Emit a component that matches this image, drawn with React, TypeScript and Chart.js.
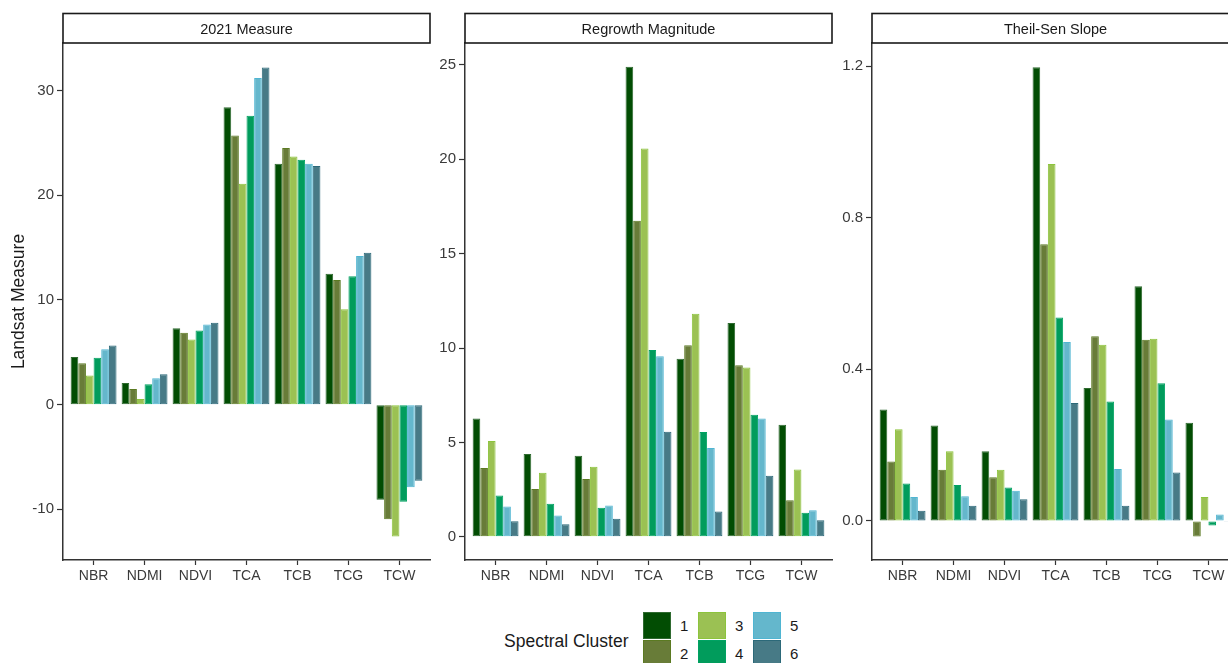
import React, { useEffect, useRef } from 'react';
import { Chart, registerables } from 'chart.js';

Chart.register(...registerables);

// ---------- data ----------
const categories = ['NBR', 'NDMI', 'NDVI', 'TCA', 'TCB', 'TCG', 'TCW'];
const clusters = ['1', '2', '3', '4', '5', '6'];

// 2021 Measure (per cluster, across categories)
const m2021_c1 = [4.56, 2.07, 7.3, 28.4, 23.0, 12.5, -9.09];
const m2021_c2 = [3.95, 1.5, 6.86, 25.7, 24.5, 11.9, -10.94];
const m2021_c3 = [2.78, 0.54, 6.22, 21.1, 23.7, 9.1, -12.6];
const m2021_c4 = [4.47, 1.95, 7.08, 27.6, 23.4, 12.25, -9.28];
const m2021_c5 = [5.3, 2.52, 7.66, 31.2, 23.0, 14.2, -7.88];
const m2021_c6 = [5.65, 2.9, 7.82, 32.2, 22.8, 14.5, -7.27];

// Regrowth Magnitude
const regrow_c1 = [6.27, 4.38, 4.29, 24.9, 9.43, 11.33, 5.93];
const regrow_c2 = [3.64, 2.53, 3.06, 16.74, 10.15, 9.09, 1.94];
const regrow_c3 = [5.08, 3.39, 3.71, 20.57, 11.81, 8.97, 3.57];
const regrow_c4 = [2.19, 1.75, 1.54, 9.89, 5.55, 6.46, 1.27];
const regrow_c5 = [1.61, 1.13, 1.66, 9.57, 4.7, 6.27, 1.41];
const regrow_c6 = [0.82, 0.67, 0.95, 5.56, 1.34, 3.23, 0.88];

// Theil-Sen Slope
const slope_c1 = [0.294, 0.252, 0.184, 1.197, 0.351, 0.619, 0.259];
const slope_c2 = [0.157, 0.135, 0.115, 0.73, 0.487, 0.478, -0.041];
const slope_c3 = [0.242, 0.184, 0.135, 0.942, 0.465, 0.481, 0.063];
const slope_c4 = [0.099, 0.095, 0.088, 0.537, 0.315, 0.363, -0.012];
const slope_c5 = [0.063, 0.065, 0.08, 0.472, 0.137, 0.268, 0.017];
const slope_c6 = [0.027, 0.04, 0.057, 0.311, 0.04, 0.128, -0.002];

// axis limits & ticks
const m2021Limits = [-14.84, 34.54];
const m2021Ticks = [-10, 0, 10, 20, 30];
const regrowLimits = [-1.23, 26.16];
const regrowTicks = [0, 5, 10, 15, 20, 25];
const slopeLimits = [-0.103, 1.261];
const slopeTicks = [0.0, 0.4, 0.8, 1.2];

const panelTitles = ['2021 Measure', 'Regrowth Magnitude', 'Theil-Sen Slope'];
const yAxisTitle = 'Landsat Measure';
const legendTitle = 'Spectral Cluster';

// ---------- styles ----------
const fillColors = ['#024d03', '#687c38', '#9bc153', '#019c5c', '#64b7cc', '#477a86'];
const borderColors = ['#2f6a30', '#5b7a22', '#8cc43c', '#00a262', '#4fb5d2', '#2c6979'];
const FONT = '"Liberation Sans", Arial, sans-serif';
const TEXT = '#1a1a1a';
const TICK_TEXT = '#3a3a3a';
const AXIS = '#333333';

const PLOT_W = 367;
const Y_AXIS_W = 63;
const CANVAS_W = Y_AXIS_W + PLOT_W + 4;
const CANVAS_H = 600;

const stripPlugin = {
  id: 'strip',
  afterDraw(chart: any, _args: any, opts: any) {
    const { ctx, chartArea } = chart;
    const left = chartArea.left;
    const right = chartArea.right;
    const top = 13.5;
    const bottom = chartArea.top;
    ctx.save();
    ctx.fillStyle = '#ffffff';
    ctx.fillRect(left, top, right - left, bottom - top);
    ctx.strokeStyle = '#1a1a1a';
    ctx.lineWidth = 1.6;
    ctx.strokeRect(left, top, right - left, bottom - top);
    ctx.fillStyle = TEXT;
    ctx.font = `14.5px ${FONT}`;
    ctx.textAlign = 'center';
    ctx.textBaseline = 'middle';
    ctx.fillText(opts.text, (left + right) / 2, (top + bottom) / 2 + 2);
    ctx.restore();
  },
};

function makeConfig(
  title: string,
  series: number[][],
  limits: number[],
  yTicks: number[],
  fmt: (v: number) => string,
  yTitle: string | null
): any {
  return {
    type: 'bar',
    data: {
      datasets: clusters.map((c, k) => ({
        label: c,
        data: series[k].map((v, i) => ({ x: i, y: v })),
        backgroundColor: fillColors[k],
        borderColor: borderColors[k],
        borderWidth: 1,
        borderSkipped: false,
        categoryPercentage: 0.9,
        barPercentage: 1.0,
      })),
    },
    options: {
      animation: false,
      responsive: false,
      maintainAspectRatio: false,
      devicePixelRatio: 1,
      events: [],
      layout: { padding: { top: 43, right: 4, left: 0, bottom: 0 } },
      plugins: {
        legend: { display: false },
        tooltip: { enabled: false },
        strip: { text: title },
      },
      scales: {
        x: {
          type: 'linear',
          offset: false,
          min: -0.6,
          max: categories.length - 1 + 0.6,
          afterBuildTicks: (s: any) => {
            s.ticks = categories.map((_, i) => ({ value: i }));
          },
          afterFit: (s: any) => {
            s.height = CANVAS_H - 560;
          },
          ticks: {
            callback: (v: number) => categories[v],
            autoSkip: false,
            maxRotation: 0,
            padding: 3,
            color: TICK_TEXT,
            font: { family: FONT, size: 14 },
          },
          grid: {
            display: true,
            offset: false,
            drawOnChartArea: false,
            tickLength: 5,
            tickColor: AXIS,
            tickWidth: 1.2,
          },
          border: { display: true, color: AXIS, width: 1.5 },
        },
        y: {
          type: 'linear',
          min: limits[0],
          max: limits[1],
          afterBuildTicks: (s: any) => {
            s.ticks = yTicks.map((v) => ({ value: v }));
          },
          afterFit: (s: any) => {
            s.width = Y_AXIS_W;
          },
          ticks: {
            callback: (v: number) => fmt(v),
            padding: 3,
            color: TICK_TEXT,
            font: { family: FONT, size: 15 },
          },
          grid: {
            display: true,
            drawOnChartArea: false,
            tickLength: 6,
            tickColor: AXIS,
            tickWidth: 1.2,
          },
          border: { display: true, color: AXIS, width: 1.5 },
          title: {
            display: !!yTitle,
            text: yTitle || '',
            color: TEXT,
            font: { family: FONT, size: 17.5 },
            padding: { top: 9, bottom: 0 },
          },
        },
      },
    },
    plugins: [stripPlugin],
  };
}

const panels = [
  {
    left: 0,
    make: () =>
      makeConfig(
        panelTitles[0],
        [m2021_c1, m2021_c2, m2021_c3, m2021_c4, m2021_c5, m2021_c6],
        m2021Limits,
        m2021Ticks,
        (v) => String(v),
        yAxisTitle
      ),
  },
  {
    left: 402,
    make: () =>
      makeConfig(
        panelTitles[1],
        [regrow_c1, regrow_c2, regrow_c3, regrow_c4, regrow_c5, regrow_c6],
        regrowLimits,
        regrowTicks,
        (v) => String(v),
        null
      ),
  },
  {
    left: 809,
    make: () =>
      makeConfig(
        panelTitles[2],
        [slope_c1, slope_c2, slope_c3, slope_c4, slope_c5, slope_c6],
        slopeLimits,
        slopeTicks,
        (v) => v.toFixed(1),
        null
      ),
  },
];

function Panel({ left, make }: { left: number; make: () => any }) {
  const ref = useRef<HTMLCanvasElement | null>(null);
  useEffect(() => {
    const chart = new Chart(ref.current as HTMLCanvasElement, make());
    return () => chart.destroy();
  }, []);
  return (
    <canvas
      ref={ref}
      width={CANVAS_W}
      height={CANVAS_H}
      style={{ position: 'absolute', left, top: 0, width: CANVAS_W, height: CANVAS_H }}
    />
  );
}

function Legend() {
  const keyX = [643, 698, 753];
  const keyY = [612, 640];
  return (
    <>
      <div
        style={{
          position: 'absolute',
          left: 504,
          top: 631,
          fontFamily: FONT,
          fontSize: 17.5,
          color: TEXT,
          lineHeight: '21px',
          whiteSpace: 'nowrap',
        }}
      >
        {legendTitle}
      </div>
      {clusters.map((c, k) => {
        const col = Math.floor(k / 2);
        const row = k % 2;
        return (
          <React.Fragment key={c}>
            <div
              style={{
                position: 'absolute',
                left: keyX[col],
                top: keyY[row],
                width: 28,
                height: 27,
                boxSizing: 'border-box',
                background: fillColors[k],
                border: `1px solid ${borderColors[k]}`,
              }}
            />
            <div
              style={{
                position: 'absolute',
                left: keyX[col] + 37,
                top: keyY[row] + 5,
                fontFamily: FONT,
                fontSize: 15,
                lineHeight: '18px',
                color: TEXT,
              }}
            >
              {c}
            </div>
          </React.Fragment>
        );
      })}
    </>
  );
}

export default function App() {
  useEffect(() => {
    document.body.style.margin = '0';
  }, []);
  return (
    <div
      style={{
        position: 'absolute',
        left: 0,
        top: 0,
        width: 1228,
        height: 663,
        overflow: 'hidden',
        background: '#ffffff',
      }}
    >
      {panels.map((p, i) => (
        <Panel key={i} left={p.left} make={p.make} />
      ))}
      <Legend />
    </div>
  );
}
